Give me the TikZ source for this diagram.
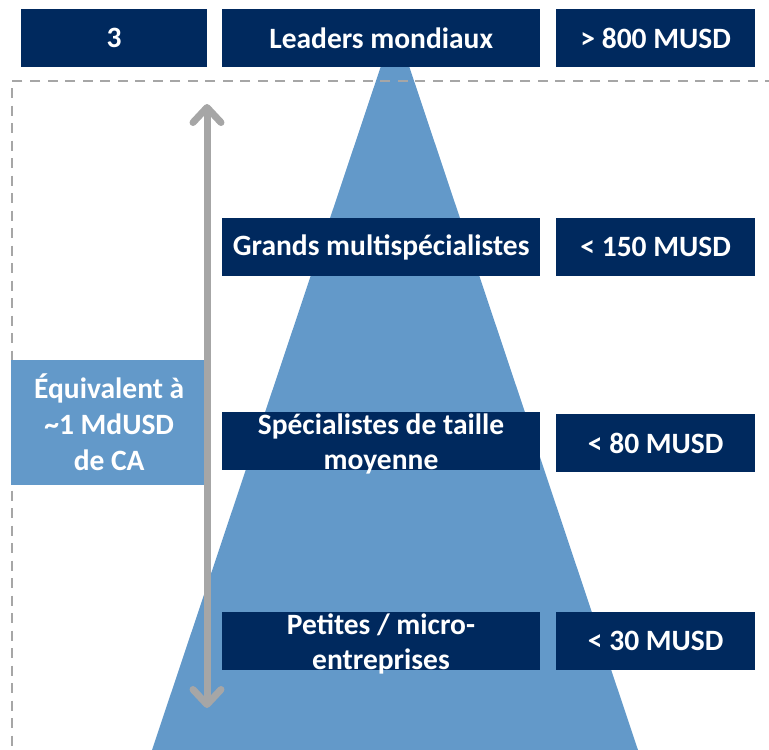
\documentclass[tikz,border=0pt]{standalone}
\usepackage{fontspec}
\setmainfont{Carlito}
\usetikzlibrary{arrows.meta}
\definecolor{navy}{HTML}{00295E}
\definecolor{pyr}{HTML}{6399C9}
\definecolor{dashgray}{HTML}{A6A6A6}
\tikzset{
  boxfont/.style={font=\fontsize{29.5}{35}\selectfont\bfseries},
  navybox/.style={fill=navy, text=white, inner sep=0pt, anchor=north west,
    boxfont, align=center},
  lightbox/.style={fill=pyr, text=white, inner sep=0pt, anchor=north west,
    font=\fontsize{29.5}{36}\selectfont\bfseries, align=center},
  chev/.tip={Straight Barb[length=15pt,width=28pt,round]},
}
\begin{document}
\begin{tikzpicture}[x=1pt,y=-1pt]
\useasboundingbox (0,0) rectangle (769,750);
\clip (0,0) rectangle (769,750);
% pyramid
\fill[pyr] (395,24) -- (638,750) -- (152,750) -- cycle;
% dashed frame
\coordinate (fr1) at (775,81);
\coordinate (fr2) at (12,81);
\coordinate (fr3) at (12,760);
\draw[dashgray, line width=2.8pt, dash pattern=on 10pt off 7.5pt] (fr1) -- (fr2) -- (fr3);
% top row
\node[navybox, minimum width=186pt, minimum height=58pt] (n3) at (21,9) {3};
\node[navybox, minimum width=318pt, minimum height=58pt] (lead) at (222,9) {Leaders mondiaux};
\node[navybox, minimum width=199pt, minimum height=58pt] (v800) at (556,9) {> 800 MUSD};
% rows
\node[navybox, minimum width=318pt, minimum height=58pt] (grands) at (222,218) {Grands multispécialistes};
\node[navybox, minimum width=199pt, minimum height=58pt] (v150) at (556,218) {< 150 MUSD};
\node[navybox, minimum width=318pt, minimum height=58pt] (spec) at (222,412) {};
\node[text=white, boxfont, align=center] (spect) at (381,444) {Spécialistes de taille\\moyenne};
\node[navybox, minimum width=199pt, minimum height=58pt] (v80) at (556,414) {< 80 MUSD};
\node[navybox, minimum width=318pt, minimum height=58pt] (pet) at (222,612) {};
\node[text=white, boxfont, align=center] (pett) at (381,644) {Petites / micro-\\entreprises};
\node[navybox, minimum width=199pt, minimum height=58pt] (v30) at (556,612) {< 30 MUSD};
% equivalent box
\node[lightbox, minimum width=196pt, minimum height=125pt] (equiv) at (11,360) {Équivalent à\\\textasciitilde1 MdUSD\\de CA};
% arrow
\coordinate (atop) at (207,104);
\coordinate (abot) at (207,708);
\draw[dashgray, line width=7pt, chev-chev] (atop) -- (abot);
\end{tikzpicture}
\end{document}
